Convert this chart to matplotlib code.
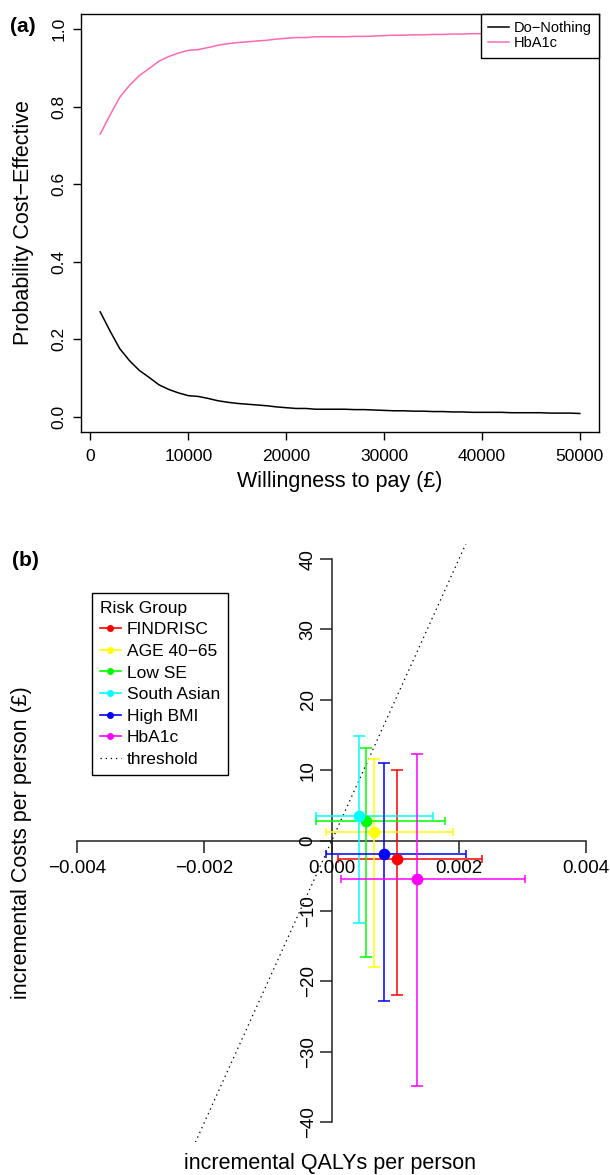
import numpy as np
import matplotlib
matplotlib.use("Agg")
import matplotlib.pyplot as plt
from matplotlib.lines import Line2D

plt.rcParams['font.family'] = ['Liberation Sans', 'DejaVu Sans']
plt.rcParams['axes.unicode_minus'] = True

# ---------------- Panel (a) data: CEAC ----------------
wtp = [1000, 2000, 3000, 4000, 5000, 6000, 7000, 8000, 9000, 10000,
       11000, 12000, 13000, 14000, 15000, 16000, 17000, 18000, 19000, 20000,
       21000, 22000, 23000, 24000, 25000, 26000, 27000, 28000, 29000, 30000,
       31000, 32000, 33000, 34000, 35000, 36000, 37000, 38000, 39000, 40000,
       41000, 42000, 43000, 44000, 45000, 46000, 47000, 48000, 49000, 50000]
p_do_nothing = [0.271, 0.222, 0.176, 0.145, 0.120, 0.102, 0.083, 0.071, 0.062, 0.055,
                0.053, 0.048, 0.042, 0.038, 0.035, 0.033, 0.031, 0.029, 0.026, 0.024,
                0.022, 0.022, 0.020, 0.020, 0.020, 0.020, 0.019, 0.019, 0.018, 0.017,
                0.016, 0.016, 0.015, 0.015, 0.014, 0.014, 0.013, 0.013, 0.012, 0.012,
                0.012, 0.012, 0.011, 0.011, 0.011, 0.011, 0.010, 0.010, 0.010, 0.009]
p_hba1c = [0.729, 0.778, 0.824, 0.855, 0.880, 0.898, 0.917, 0.929, 0.938, 0.945,
           0.947, 0.952, 0.958, 0.962, 0.965, 0.967, 0.969, 0.971, 0.974, 0.976,
           0.978, 0.978, 0.980, 0.980, 0.980, 0.980, 0.981, 0.981, 0.982, 0.983,
           0.984, 0.984, 0.985, 0.985, 0.986, 0.986, 0.987, 0.987, 0.988, 0.988,
           0.988, 0.988, 0.989, 0.989, 0.989, 0.989, 0.990, 0.990, 0.990, 0.991]
ceac_labels = ["Do\u2212Nothing", "HbA1c"]
x_ticks_a = [0, 10000, 20000, 30000, 40000, 50000]
y_ticks_a = [0.0, 0.2, 0.4, 0.6, 0.8, 1.0]

# ---------------- Panel (b) data: CE plane ----------------
groups = ["FINDRISC", "AGE 40\u221265", "Low SE", "South Asian", "High BMI", "HbA1c"]
group_colors = ["#FF0000", "#FFFF00", "#00FF00", "#00FFFF", "#0000FF", "#FF00FF"]
d_qaly = [0.00103, 0.00066, 0.000534, 0.000434, 0.000822, 0.001335]
d_qaly_lo = [0.0000943, -0.0000896, -0.000251, -0.000247, -0.0000943, 0.000146]
d_qaly_hi = [0.002366, 0.00191, 0.001775, 0.001597, 0.00211, 0.003042]
d_cost = [-2.55, 1.19, 2.80, 3.47, -1.89, -5.49]
d_cost_lo = [-21.9, -17.94, -16.5, -11.74, -22.7, -34.85]
d_cost_hi = [10.0, 11.65, 13.12, 14.87, 11.04, 12.36]
threshold = 20000
x_ticks_b = [-0.004, -0.002, 0.0, 0.002, 0.004]
x_ticklabels_b = ["\u22120.004", "\u22120.002", "0.000", "0.002", "0.004"]
y_ticks_b = [-40, -30, -20, -10, 0, 10, 20, 30, 40]
y_ticklabels_b = ["\u221240", "\u221230", "\u221220", "\u221210", "0", "10", "20", "30", "40"]

W, H = 610, 1175
fig = plt.figure(figsize=(W / 100, H / 100), dpi=100)


def fx(px):
    return px / W


def fy(py):
    return 1 - py / H


# ---------------- Panel (a) ----------------
ax1 = fig.add_axes([fx(81), fy(432), fx(599) - fx(81), fy(14) - fy(432)])
ax1.plot(wtp, p_do_nothing, color="black", lw=1.1, label=ceac_labels[0])
ax1.plot(wtp, p_hba1c, color="#FF69B4", lw=1.1, label=ceac_labels[1])
ax1.set_xlim(-960, 51960)
ax1.set_ylim(-0.0387, 1.0387)
ax1.set_xticks(x_ticks_a)
ax1.set_xticklabels([str(v) for v in x_ticks_a])
ax1.set_yticks(y_ticks_a)
ax1.set_yticklabels(["%.1f" % v for v in y_ticks_a])
for sp in ax1.spines.values():
    sp.set_linewidth(1.0)
ax1.tick_params(axis='both', direction='out', length=6, width=1.0, labelsize=12.5)
ax1.tick_params(axis='x', pad=6.5)
ax1.tick_params(axis='y', pad=4.3)
for lab in ax1.get_yticklabels():
    lab.set_rotation(90)
    lab.set_va('center')
leg1 = ax1.legend(loc='upper right', borderaxespad=0, fancybox=False,
                  edgecolor='black', framealpha=1, fontsize=10.5,
                  handlelength=1.4, handletextpad=0.34, labelspacing=0.07,
                  borderpad=0.5)
leg1.get_frame().set_linewidth(1.0)

fig.text(fx(23), fy(223), "Probability Cost\u2212Effective", rotation=90,
         ha='center', va='center', fontsize=15.5)
fig.text(fx(340), fy(481), "Willingness to pay (\u00a3)", ha='center', va='center',
         fontsize=15.5)
fig.text(fx(23), fy(26), "(a)", ha='center', va='center', fontsize=15,
         fontweight='bold')

# ---------------- Panel (b) ----------------
ax2 = fig.add_axes([fx(64.4), fy(1142.3), fx(599) - fx(64.4), fy(544) - fy(1142.3)])
ax2.set_xlim(-0.0042, 0.0042)
ax2.set_ylim(-42.84, 42.14)
ax2.patch.set_visible(False)

for i in range(len(groups)):
    c = group_colors[i]
    xerr = [[d_qaly[i] - d_qaly_lo[i]], [d_qaly_hi[i] - d_qaly[i]]]
    yerr = [[d_cost[i] - d_cost_lo[i]], [d_cost_hi[i] - d_cost[i]]]
    ax2.errorbar([d_qaly[i]], [d_cost[i]], xerr=xerr, fmt='none', ecolor=c,
                 elinewidth=1.1, capsize=2.8, capthick=1.1, zorder=3)
    ax2.errorbar([d_qaly[i]], [d_cost[i]], yerr=yerr, fmt='none', ecolor=c,
                 elinewidth=1.1, capsize=4.0, capthick=1.1, zorder=3)
    ax2.plot([d_qaly[i]], [d_cost[i]], 'o', color=c, markersize=7.4, zorder=4)

ax2.axline((0, 0), slope=threshold, color='black', lw=0.9,
           linestyle=(0, (1.1, 3.0)), zorder=2)

ax2.spines['top'].set_visible(False)
ax2.spines['right'].set_visible(False)
ax2.spines['left'].set_position(('data', 0))
ax2.spines['bottom'].set_position(('data', 0))
ax2.spines['left'].set_bounds(-40, 40)
ax2.spines['bottom'].set_bounds(-0.004, 0.004)
for s in ['left', 'bottom']:
    ax2.spines[s].set_linewidth(1.1)
    ax2.spines[s].set_color('#222222')
    ax2.spines[s].set_zorder(1)
ax2.set_xticks(x_ticks_b)
ax2.set_xticklabels(x_ticklabels_b)
ax2.set_yticks(y_ticks_b)
ax2.set_yticklabels(y_ticklabels_b)
ax2.tick_params(axis='both', direction='out', length=8.6, width=1.1,
                labelsize=13.5, color='#222222')
ax2.tick_params(axis='x', pad=5)
ax2.tick_params(axis='y', pad=2.2)
for lab in ax2.get_yticklabels():
    lab.set_rotation(90)
    lab.set_va('center')

handles = [Line2D([], [], color=c, marker='o', markersize=4, lw=1.2)
           for c in group_colors]
handles.append(Line2D([], [], color='black', lw=0.9, linestyle=(0, (1.1, 3.0))))
leg_labels = groups + ["threshold"]
ax_x = (92 - 64.4) / (599 - 64.4)
ax_y = (1142.3 - 593) / (1142.3 - 544)
leg2 = ax2.legend(handles, leg_labels, title="Risk Group", loc='upper left',
                  bbox_to_anchor=(ax_x, ax_y), borderaxespad=0, fancybox=False,
                  edgecolor='black', framealpha=1, fontsize=12.5,
                  title_fontsize=12.5, handlelength=1.21, handletextpad=0.36,
                  labelspacing=0.37, borderpad=0.45, alignment='left')
leg2.get_frame().set_linewidth(1.0)

fig.text(fx(22), fy(843), "incremental Costs per person (\u00a3)", rotation=90,
         ha='center', va='center', fontsize=15.5)
fig.text(fx(330), fy(1163), "incremental QALYs per person", ha='center',
         va='center', fontsize=15.5)
fig.text(fx(25), fy(561), "(b)", ha='center', va='center', fontsize=15,
         fontweight='bold')

fig.savefig("out.png", dpi=100)
